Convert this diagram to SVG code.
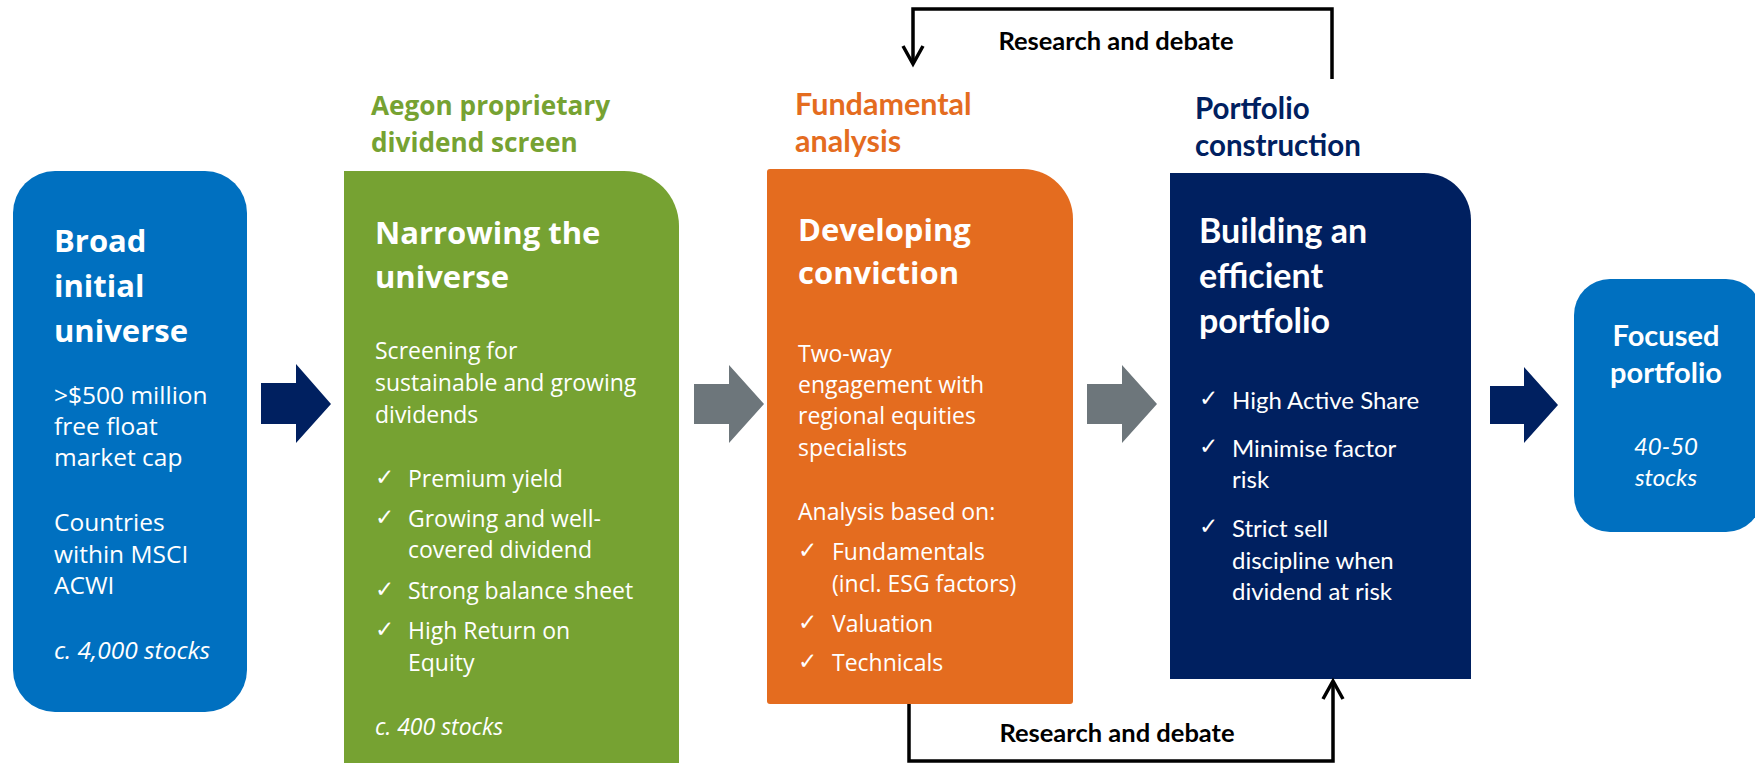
<svg xmlns="http://www.w3.org/2000/svg" width="1755" height="763" viewBox="0 0 1755 763">
<style>
.seg{font-family:"Open Sans","DejaVu Sans",sans-serif;fill:#fff}
.segb{font-family:"Open Sans","DejaVu Sans",sans-serif;font-weight:700;fill:#fff}
.cal{font-family:Lato,"Open Sans",sans-serif;fill:#fff}
.calb{font-family:Lato,"Open Sans",sans-serif;font-weight:700}
.body{font-size:23px}
.body1{font-size:24.5px}
.title{font-size:31px}
.ck{font-family:"DejaVu Sans",sans-serif;font-size:23px;fill:#fff}
.it{font-style:italic}
.loop{fill:none;stroke:#000;stroke-width:3.5}
</style>
<rect width="1755" height="763" fill="#fff"/>

<g id="header-screen">
<text class="segb" style="fill:#76A232;font-size:26.2px" x="371" y="115">Aegon proprietary</text>
<text class="segb" style="fill:#76A232;font-size:26.2px" x="371" y="152">dividend screen</text>
</g>
<g id="header-fundamental">
<text class="calb" style="fill:#E46C1F;font-size:30.5px" x="795" y="115">Fundamental</text>
<text class="calb" style="fill:#E46C1F;font-size:30.5px" x="795" y="152">analysis</text>
</g>
<g id="header-portfolio">
<text class="calb" style="fill:#002060;font-size:29.5px" x="1195" y="119">Portfolio</text>
<text class="calb" style="fill:#002060;font-size:29.5px" x="1195" y="156">construction</text>
</g>

<g id="broad-universe">
<rect x="13" y="171" width="234" height="541" rx="42" fill="#0070C0"/>
<text class="segb title" x="54" y="252">Broad</text>
<text class="segb title" x="54" y="297">initial</text>
<text class="segb title" x="54" y="342">universe</text>
<text class="seg body1" x="54" y="404">&gt;$500 million</text>
<text class="seg body1" x="54" y="435">free float</text>
<text class="seg body1" x="54" y="466">market cap</text>
<text class="seg body1" x="54" y="531">Countries</text>
<text class="seg body1" x="54" y="563">within MSCI</text>
<text class="seg body1" x="54" y="594">ACWI</text>
<text class="seg body1 it" x="54" y="659">c. 4,000 stocks</text>
</g>

<g id="narrowing">
<path d="M344,171 H624 A55,55 0 0 1 679,226 V770 H344 Z" fill="#76A232"/>
<text class="segb title" x="375" y="244">Narrowing the</text>
<text class="segb title" x="375" y="288">universe</text>
<text class="seg body" x="375" y="359">Screening for</text>
<text class="seg body" x="375" y="391">sustainable and growing</text>
<text class="seg body" x="375" y="423">dividends</text>
<text class="ck" x="375" y="485">✓</text>
<text class="seg body" x="408" y="487">Premium yield</text>
<text class="ck" x="375" y="525">✓</text>
<text class="seg body" x="408" y="527">Growing and well-</text>
<text class="seg body" x="408" y="558">covered dividend</text>
<text class="ck" x="375" y="597">✓</text>
<text class="seg body" x="408" y="599">Strong balance sheet</text>
<text class="ck" x="375" y="637">✓</text>
<text class="seg body" x="408" y="639">High Return on</text>
<text class="seg body" x="408" y="671">Equity</text>
<text class="seg body it" x="375" y="735">c. 400 stocks</text>
</g>

<g id="conviction">
<path d="M770,169 H1023 A50,50 0 0 1 1073,219 V701 A3,3 0 0 1 1070,704 H770 A3,3 0 0 1 767,701 V172 A3,3 0 0 1 770,169 Z" fill="#E46C1F"/>
<text class="segb title" x="798" y="241">Developing</text>
<text class="segb title" x="798" y="284">conviction</text>
<text class="seg body" x="798" y="362">Two-way</text>
<text class="seg body" x="798" y="393">engagement with</text>
<text class="seg body" x="798" y="424">regional equities</text>
<text class="seg body" x="798" y="456">specialists</text>
<text class="seg body" x="798" y="520">Analysis based on:</text>
<text class="ck" x="798" y="558">✓</text>
<text class="seg body" x="832" y="560">Fundamentals</text>
<text class="seg body" x="832" y="592">(incl. ESG factors)</text>
<text class="ck" x="798" y="630">✓</text>
<text class="seg body" x="832" y="632">Valuation</text>
<text class="ck" x="798" y="669">✓</text>
<text class="seg body" x="832" y="671">Technicals</text>
</g>

<g id="efficient-portfolio">
<path d="M1170,173 H1424 A47,47 0 0 1 1471,220 V679 H1170 Z" fill="#002060"/>
<text class="calb" style="fill:#fff;font-size:34px" x="1199" y="243">Building an</text>
<text class="calb" style="fill:#fff;font-size:34px" x="1199" y="288">efficient</text>
<text class="calb" style="fill:#fff;font-size:34px" x="1199" y="333">portfolio</text>
<text class="ck" x="1199" y="406">✓</text>
<text class="cal" style="font-size:24px" x="1232" y="409">High Active Share</text>
<text class="ck" x="1199" y="454">✓</text>
<text class="cal" style="font-size:24px" x="1232" y="457">Minimise factor</text>
<text class="cal" style="font-size:24px" x="1232" y="488">risk</text>
<text class="ck" x="1199" y="534">✓</text>
<text class="cal" style="font-size:24px" x="1232" y="537">Strict sell</text>
<text class="cal" style="font-size:24px" x="1232" y="569">discipline when</text>
<text class="cal" style="font-size:24px" x="1232" y="600">dividend at risk</text>
</g>

<g id="focused-portfolio">
<rect x="1574" y="279" width="188" height="253" rx="36" fill="#0070C0"/>
<text class="calb" style="fill:#fff;font-size:29px" x="1666" y="346" text-anchor="middle">Focused</text>
<text class="calb" style="fill:#fff;font-size:29px" x="1666" y="383" text-anchor="middle">portfolio</text>
<text class="cal it" style="font-size:24px" x="1666" y="455" text-anchor="middle">40-50</text>
<text class="cal it" style="font-size:24px" x="1666" y="486" text-anchor="middle">stocks</text>
</g>

<g id="connectors">
<polygon points="261,383 296,383 296,364 331,404 296,443 296,424 261,424" fill="#002060"/>
<polygon points="694,384 729,384 729,365 764,404 729,443 729,424 694,424" fill="#6D767B"/>
<polygon points="1087,384 1122,384 1122,365 1157,404 1122,443 1122,424 1087,424" fill="#6D767B"/>
<polygon points="1490,386 1524,386 1524,367 1558,405 1524,443 1524,424 1490,424" fill="#002060"/>
<path class="loop" d="M1332,79 V9 H913 V63"/>
<path class="loop" d="M903,46 L913,64 L923,46"/>
<text class="calb" style="fill:#000;font-size:25.5px" x="1116" y="50" text-anchor="middle">Research and debate</text>
<path class="loop" d="M909,704 V761 H1333 V682"/>
<path class="loop" d="M1323,699 L1333,681 L1343,699"/>
<text class="calb" style="fill:#000;font-size:25.5px" x="1117" y="742" text-anchor="middle">Research and debate</text>
</g>
</svg>
